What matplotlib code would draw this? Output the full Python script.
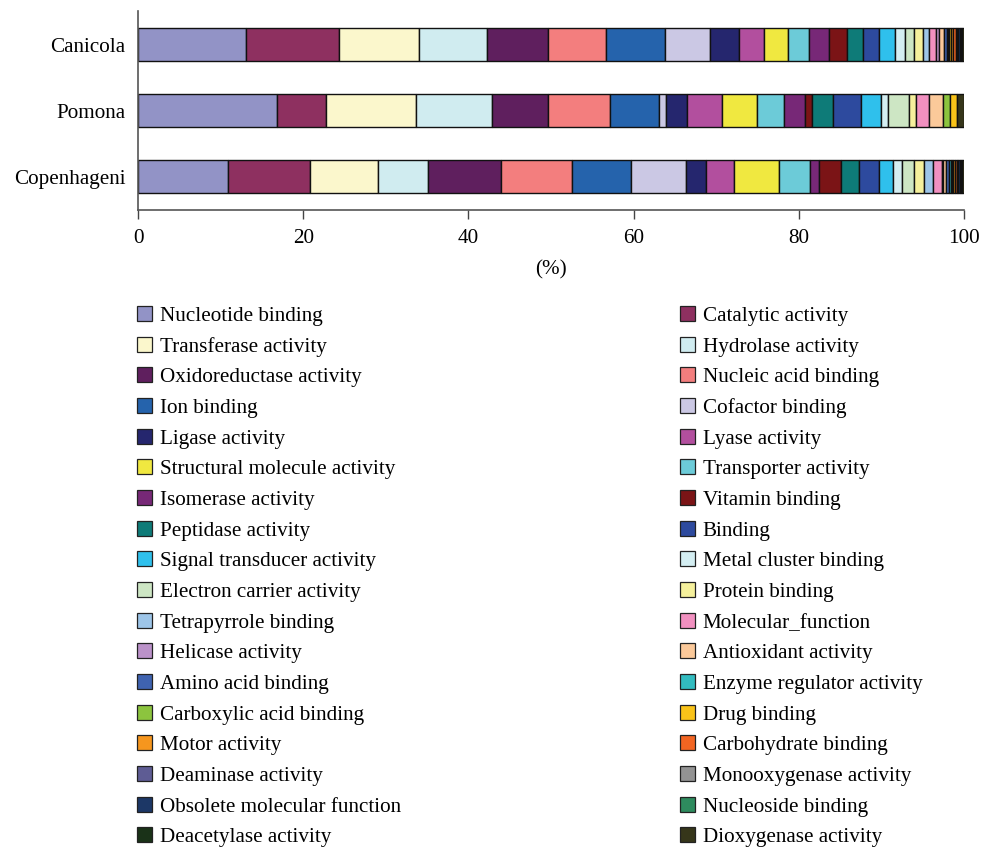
import matplotlib
matplotlib.use("Agg")
import matplotlib.pyplot as plt
from matplotlib.patches import Patch

plt.rcParams['font.family'] = ['Liberation Serif', 'DejaVu Serif']

strains = ["Copenhageni", "Pomona", "Canicola"]

functions = [
    "Nucleotide binding", "Catalytic activity", "Transferase activity", "Hydrolase activity",
    "Oxidoreductase activity", "Nucleic acid binding", "Ion binding", "Cofactor binding",
    "Ligase activity", "Lyase activity", "Structural molecule activity", "Transporter activity",
    "Isomerase activity", "Vitamin binding", "Peptidase activity", "Binding",
    "Signal transducer activity", "Metal cluster binding", "Electron carrier activity", "Protein binding",
    "Tetrapyrrole binding", "Molecular_function", "Helicase activity", "Antioxidant activity",
    "Amino acid binding", "Enzyme regulator activity", "Carboxylic acid binding", "Drug binding",
    "Motor activity", "Carbohydrate binding", "Deaminase activity", "Monooxygenase activity",
    "Obsolete molecular function", "Nucleoside binding", "Deacetylase activity", "Dioxygenase activity",
]

colors = [
    "#9293c6", "#8e3060", "#fbf7cc", "#d0ecf0",
    "#5f1f5e", "#f37e7e", "#2563ac", "#cbc8e4",
    "#25266e", "#b24f9e", "#f0e840", "#6ccbd8",
    "#772877", "#7b1416", "#0e7b78", "#2d4a9e",
    "#2fc0ec", "#d4eef2", "#cde6c4", "#f5f09c",
    "#9dc5e8", "#f190c0", "#bb92c9", "#fbc99a",
    "#3f63b0", "#32bcc0", "#8cc43e", "#f9c319",
    "#f6961e", "#f26522", "#5e5c94", "#939393",
    "#1c3766", "#2e8b5e", "#1a3218", "#36361a",
]

canicola = [13.1, 11.2, 9.7, 8.2, 7.4, 7.1, 7.1, 5.4, 3.5, 3.1, 2.9, 2.5,
            2.4, 2.2, 2.0, 1.9, 1.9, 1.3, 1.1, 1.0, 0.7, 0.9, 0.4, 0.6,
            0.3, 0.2, 0.1, 0.2, 0.3, 0.3, 0.2, 0.1, 0.2, 0.1, 0.2, 0.2]
pomona = [16.8, 5.9, 10.9, 9.3, 6.7, 7.6, 5.9, 0.8, 2.6, 4.2, 4.2, 3.3,
          2.6, 0.8, 2.5, 3.4, 2.5, 0.8, 2.5, 0.9, 0.0, 1.6, 0.0, 1.7,
          0.0, 0.0, 0.8, 0.8, 0.0, 0.0, 0.0, 0.0, 0.0, 0.0, 0.0, 0.9]
copenhageni = [10.9, 9.9, 8.3, 6.0, 8.8, 8.7, 7.1, 6.6, 2.5, 3.4, 5.4, 3.7,
               1.2, 2.6, 2.2, 2.4, 1.7, 1.1, 1.4, 1.2, 1.1, 1.1, 0.2, 0.3,
               0.4, 0.2, 0.1, 0.2, 0.2, 0.2, 0.1, 0.1, 0.2, 0.1, 0.2, 0.2]

data = {"Copenhageni": copenhageni, "Pomona": pomona, "Canicola": canicola}

fig = plt.figure(figsize=(9.83, 8.49), dpi=100)
ax = fig.add_axes([0.1404, 0.7527, 0.8403, 0.2338])

for yi, s in enumerate(strains):
    left = 0.0
    for k, v in enumerate(data[s]):
        if v > 0:
            ax.barh(yi, v, left=left, height=0.5, color=colors[k],
                    edgecolor="#111111", linewidth=1.0)
        left += v

ax.set_xlim(0, 100)
ax.set_ylim(-0.5, 2.5)
ax.set_yticks(range(len(strains)))
ax.set_yticklabels(strains, fontsize=15.2)
ax.set_xticks([0, 20, 40, 60, 80, 100])
ax.tick_params(axis='y', length=0, pad=9)
ax.tick_params(axis='x', length=6.5, width=1.0, color="#444444", direction='out',
               labelsize=15.2, pad=7)
ax.set_xlabel("(%)", fontsize=15.2, labelpad=9)
for side in ["top", "right"]:
    ax.spines[side].set_visible(False)
for side in ["left", "bottom"]:
    ax.spines[side].set_color("#555555")
    ax.spines[side].set_linewidth(1.2)

handles = [Patch(facecolor=c, edgecolor="#222222", linewidth=0.9) for c in colors]
left_idx = list(range(0, 36, 2))
right_idx = list(range(1, 36, 2))

common = dict(frameon=False, fontsize=15.2, handlelength=0.72, handleheight=0.72,
              handletextpad=0.35, labelspacing=0.51, borderpad=0, borderaxespad=0,
              loc='upper left')
leg1 = fig.legend([handles[i] for i in left_idx], [functions[i] for i in left_idx],
                  bbox_to_anchor=(0.1395, 1 - 306 / 849), **common)
leg2 = fig.legend([handles[i] for i in right_idx], [functions[i] for i in right_idx],
                  bbox_to_anchor=(0.6917, 1 - 306 / 849), **common)

fig.savefig("out.png", dpi=100)
